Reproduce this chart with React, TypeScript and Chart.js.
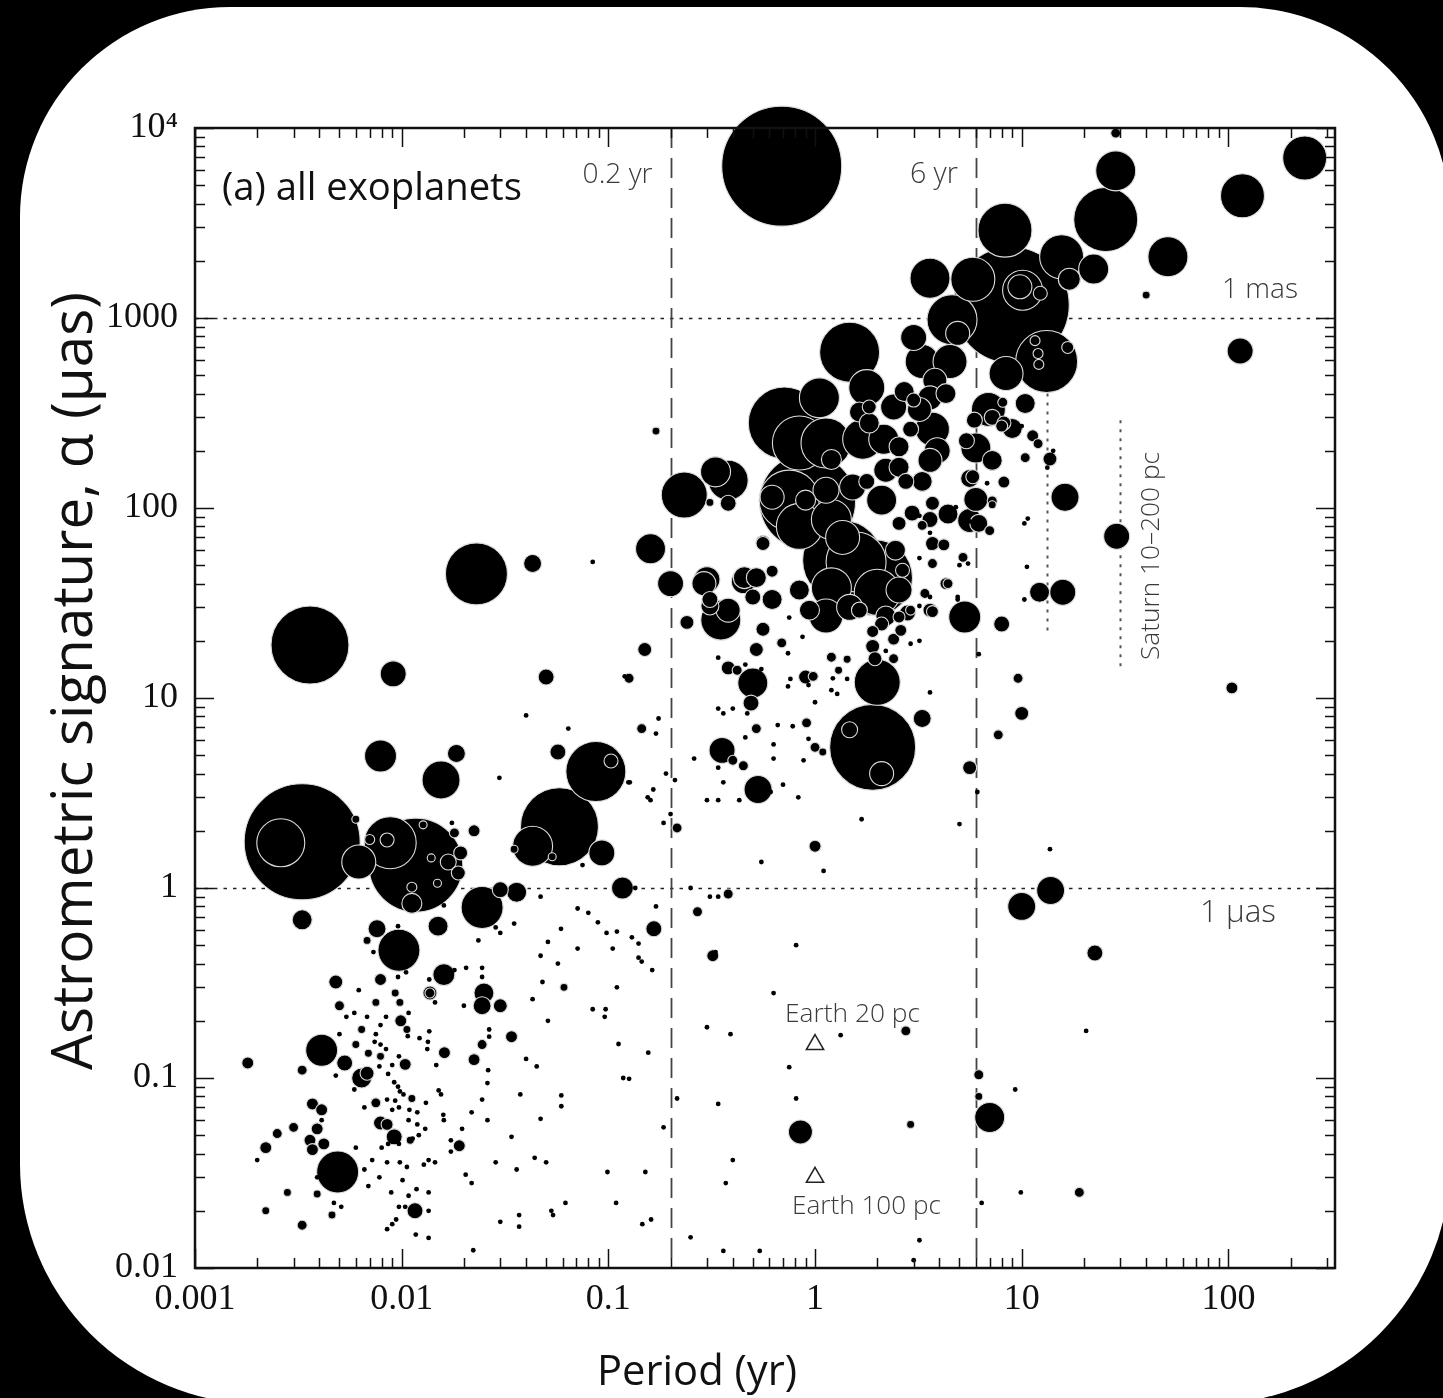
import React, { useEffect, useRef } from "react";
import { Chart, registerables } from "chart.js";

Chart.register(...registerables);

type Bubble = [number, number, number]; // [period (yr), astrometric signature (µas), bubble size]
type Dot = [number, number]; // [period (yr), astrometric signature (µas)]

// ---------------- data ----------------
const giantPlanets: Bubble[] = [
  [0.69, 6300, 60], [0.0036, 19, 39], [0.023, 45, 31], [0.0033, 1.75, 58], [0.0026, 1.73, 24],
  [0.0117, 1.32, 47], [0.0088, 1.73, 26], [0.058, 2.1, 39], [0.043, 1.66, 20], [0.087, 4.1, 30],
  [0.0245, 0.79, 21], [0.233, 117, 23], [0.35, 25.7, 20], [0.71, 280, 36], [1.47, 660, 30],
  [0.92, 108, 48], [1.36, 53, 40], [1.94, 43, 38], [1.9, 5.5, 43], [2.0, 12.1, 23],
  [8.3, 2900, 27], [25.5, 3300, 32], [28.5, 5950, 20], [51, 2100, 20], [117, 4400, 22],
  [234, 6950, 22], [15.6, 2100, 22], [13.2, 590, 31], [0.0049, 0.032, 21], [0.0097, 0.47, 21],
  [8.9, 1170, 58], [3.6, 1620, 20], [5.8, 1600, 22], [10.1, 1400, 20], [4.6, 980, 25],
  [1.05, 380, 20], [0.84, 220, 27], [1.13, 220, 25], [1.7, 230, 20], [0.75, 110, 30],
  [1.2, 87, 20], [0.84, 80, 23], [1.58, 52, 30], [1.2, 38, 20], [2.0, 36, 23], [0.38, 140, 20],
];

const largePlanets: Bubble[] = [
  [0.0062, 1.37, 17], [0.0155, 3.7, 19], [0.0079, 4.95, 16], [0.0091, 13.4, 13], [0.093, 1.53, 13],
  [0.117, 1.0, 11], [0.16, 61, 15], [0.2, 40, 13], [0.33, 155, 15], [0.29, 40, 12],
  [0.455, 43, 11], [2.1, 4.0, 12], [0.53, 3.3, 14], [0.355, 5.3, 13], [0.5, 12, 15],
  [5.3, 26.7, 16], [114, 670, 13], [22.3, 1810, 15], [17, 1600, 11], [28.8, 71, 13],
  [16.2, 114, 14], [15.8, 36, 13], [12.2, 36, 10], [13.8, 0.97, 14], [10, 0.8, 14],
  [7.0, 0.062, 15], [0.85, 0.052, 12], [0.0041, 0.14, 16], [0.0033, 0.68, 10], [0.025, 0.28, 10],
  [0.015, 0.63, 10], [0.016, 0.35, 11], [0.0064, 0.1, 10], [0.0112, 0.83, 10], [0.036, 0.95, 10],
  [9.8, 1460, 12], [4.9, 830, 12], [3.0, 790, 13], [3.3, 590, 17], [4.5, 590, 17],
  [3.8, 470, 12], [2.7, 410, 10], [3.6, 380, 12], [4.3, 400, 10], [8.4, 510, 17],
  [3.7, 260, 17], [3.9, 200, 13], [3.2, 330, 12], [2.4, 340, 13], [1.78, 430, 18],
  [1.64, 320, 10], [1.83, 280, 10], [1.2, 180, 10], [2.15, 230, 15], [2.55, 210, 10],
  [0.62, 114, 12], [0.9, 110, 10], [1.13, 124, 13], [1.52, 129, 13], [2.2, 158, 12],
  [2.55, 164, 10], [3.3, 138, 10], [3.6, 178, 12], [2.1, 110, 15], [1.36, 70, 17],
  [2.55, 37, 13], [2.2, 27, 10], [2.45, 60, 10], [5.6, 86, 12], [0.52, 43, 10],
  [0.45, 41, 12], [0.3, 42, 13], [0.38, 29, 12], [0.62, 33, 10], [0.84, 37, 10],
  [0.94, 29, 10], [1.13, 27, 17], [1.47, 30, 13], [10.4, 355, 10], [9.0, 262, 10],
  [6.0, 207, 15], [6.9, 330, 17], [7.2, 178, 10], [6.0, 111, 12], [4.4, 93, 10],
];

const mediumPlanets: Bubble[] = [
  [0.0184, 5.1, 9], [0.043, 51, 9], [0.05, 12.9, 8], [0.31, 30.5, 9], [0.24, 25, 7],
  [1.47, 6.8, 8], [0.49, 9.4, 8], [11.6, 760, 5], [12.0, 650, 5], [12.1, 570, 5],
  [16.7, 700, 6], [28.5, 9400, 5], [40, 1320, 4], [104, 11.3, 6], [22.6, 0.455, 8],
  [19, 0.025, 5], [0.0018, 0.12, 6], [0.0076, 0.61, 9], [0.0116, 0.02, 8], [0.0245, 0.24, 9],
  [0.03, 0.24, 7], [0.0137, 0.28, 7], [0.0068, 0.53, 4], [0.0048, 0.32, 7], [0.0079, 0.33, 6],
  [0.0053, 0.12, 8], [0.0033, 0.11, 5], [0.0037, 0.073, 6], [0.0041, 0.068, 6], [0.0036, 0.047, 6],
  [0.0037, 0.042, 6], [0.0042, 0.045, 6], [0.0039, 0.054, 6], [0.003, 0.055, 5], [0.0025, 0.051, 5],
  [0.0022, 0.043, 6], [0.0022, 0.02, 4], [0.0033, 0.0168, 5], [0.0028, 0.025, 4], [0.0039, 0.0245, 4],
  [0.0046, 0.019, 4], [0.0092, 0.049, 8], [0.0079, 0.058, 7], [0.0085, 0.057, 6], [0.0068, 0.106, 7],
  [0.0099, 0.2, 6], [0.005, 0.24, 5], [0.006, 0.15, 4], [0.0069, 0.135, 4], [0.0079, 0.13, 4],
  [0.0104, 0.118, 6], [0.0161, 0.136, 6], [0.0112, 0.078, 4], [0.0075, 0.074, 5], [0.011, 0.047, 4],
  [0.019, 0.044, 6], [0.0064, 0.18, 4], [0.0093, 0.28, 4], [0.0098, 0.25, 4], [0.0075, 0.25, 4],
  [0.0106, 0.18, 4], [0.0085, 1.79, 7], [0.007, 1.8, 5], [0.0112, 1.01, 5], [0.0127, 2.15, 4],
  [0.0139, 1.44, 4], [0.0168, 1.37, 8], [0.0149, 1.06, 4], [0.0188, 1.2, 7], [0.0193, 1.53, 7],
  [0.103, 4.66, 7], [0.0535, 1.46, 4], [0.035, 1.6, 4], [0.034, 0.165, 6], [0.0245, 0.15, 5],
  [0.0224, 0.125, 6], [0.03, 0.98, 8], [0.166, 0.61, 8], [0.38, 0.93, 5], [0.27, 0.75, 5],
  [0.32, 0.44, 6], [2.75, 0.177, 5], [6.2, 0.104, 5], [6.2, 0.08, 4], [2.9, 0.057, 4],
  [0.17, 254, 4], [0.126, 12.7, 5], [0.145, 6.9, 5], [0.057, 5.2, 8], [0.0224, 2.0, 6],
  [0.018, 1.95, 5], [0.006, 2.3, 4], [0.215, 2.07, 5], [0.38, 14.4, 7], [0.42, 14, 5],
  [0.52, 6.9, 5], [0.4, 4.7, 5], [0.45, 4.4, 5], [0.91, 7.4, 5], [1.0, 5.5, 5],
  [1.09, 5.2, 4], [1.0, 1.66, 6], [5.6, 4.3, 7], [3.3, 7.8, 9], [0.9, 12.9, 7],
  [0.98, 13, 5], [0.69, 19.5, 5], [0.52, 18, 7], [0.56, 23, 7], [0.62, 46.5, 6],
  [0.56, 66, 7], [1.2, 16.4, 5], [1.43, 16, 4], [1.3, 14, 4], [0.15, 18, 7],
  [3.4, 35.5, 5], [4.4, 40, 5], [3.7, 28.5, 6], [6.2, 83, 9], [3.3, 81, 5],
  [2.4, 20.4, 6], [2.6, 22.7, 6], [2.1, 24.5, 7], [1.9, 22.4, 6], [1.9, 18.7, 7],
  [2.4, 16.1, 5], [1.95, 16.1, 7], [2.55, 26.7, 6], [2.9, 29, 5], [10, 8.3, 7],
  [9.6, 12.7, 5], [7.7, 6.4, 5], [13.7, 181, 7], [10.4, 184, 5], [11.3, 240, 6],
  [12, 218, 5], [8.2, 280, 7], [7.2, 300, 8], [8.2, 137, 6], [7.2, 109, 5],
  [7.2, 104, 4], [5.6, 143, 9], [5.2, 55, 5], [4.3, 40, 6], [8.0, 24.5, 8],
  [5.4, 226, 8], [5.9, 290, 8], [8.1, 360, 5], [8.0, 270, 6], [3.0, 370, 7],
  [1.83, 340, 7], [2.9, 260, 8], [1.78, 138, 8], [2.75, 138, 8], [2.8, 28, 8],
  [3.6, 29, 7], [1.64, 29, 8], [2.65, 47, 7], [3.7, 51, 5], [3.7, 65, 7],
  [4.2, 64, 6], [3.6, 87, 8], [2.95, 94, 8], [2.55, 83, 7], [3.7, 106, 7],
  [5.8, 146, 7], [7.0, 76, 5], [0.56, 65, 7], [0.31, 33, 8], [0.5, 34, 8],
  [0.31, 107, 4], [0.38, 106, 8], [12.3, 1350, 7], [0.061, 0.3, 4], [0.0137, 0.28, 5],
];

const faintPlanets: Dot[] = [
  [0.0096, 0.63], [0.0073, 0.46], [0.0105, 0.36], [0.0096, 0.34], [0.0062, 0.29], [0.0054, 0.21],
  [0.0059, 0.22], [0.0068, 0.21], [0.0084, 0.21], [0.0079, 0.19], [0.0108, 0.22], [0.005, 0.17],
  [0.0075, 0.17], [0.0107, 0.166], [0.0122, 0.162], [0.0136, 0.176], [0.0074, 0.155], [0.0079, 0.15],
  [0.0084, 0.142], [0.0097, 0.13], [0.0078, 0.115], [0.009, 0.117], [0.0134, 0.155], [0.0133, 0.142],
  [0.0147, 0.117], [0.0086, 0.105], [0.0059, 0.087], [0.0048, 0.103], [0.0092, 0.095], [0.0096, 0.09],
  [0.0098, 0.085], [0.0102, 0.082], [0.0093, 0.076], [0.0085, 0.077], [0.0066, 0.07], [0.009, 0.068],
  [0.0097, 0.07], [0.0109, 0.068], [0.0119, 0.066], [0.0108, 0.06], [0.0119, 0.057], [0.0131, 0.074],
  [0.0151, 0.086], [0.0155, 0.082], [0.0159, 0.064], [0.016, 0.06], [0.0196, 0.054], [0.0173, 0.047],
  [0.0173, 0.041], [0.013, 0.054], [0.0121, 0.05], [0.008, 0.043], [0.0086, 0.045], [0.0097, 0.045],
  [0.0113, 0.048], [0.006, 0.043], [0.0072, 0.037], [0.0085, 0.036], [0.0098, 0.036], [0.0106, 0.034],
  [0.0128, 0.035], [0.0135, 0.037], [0.0145, 0.036], [0.0066, 0.033], [0.0078, 0.03], [0.0101, 0.029],
  [0.0069, 0.027], [0.0089, 0.025], [0.0108, 0.024], [0.0118, 0.026], [0.0135, 0.025], [0.0039, 0.03],
  [0.0047, 0.022], [0.0051, 0.021], [0.002, 0.037], [0.0041, 0.06], [0.0097, 0.021], [0.0104, 0.021],
  [0.0094, 0.018], [0.009, 0.017], [0.0085, 0.016], [0.0117, 0.015], [0.0135, 0.0144], [0.0135, 0.02],
  [0.0222, 0.0124], [0.047, 0.061], [0.053, 0.02], [0.054, 0.019], [0.062, 0.022], [0.03, 0.0175],
  [0.037, 0.019], [0.037, 0.0165], [0.109, 0.022], [0.146, 0.017], [0.161, 0.018], [0.099, 0.032],
  [0.151, 0.032], [0.044, 0.038], [0.05, 0.036], [0.0285, 0.036], [0.036, 0.033], [0.0204, 0.031],
  [0.0218, 0.028], [0.034, 0.049], [0.026, 0.06], [0.0245, 0.077], [0.0218, 0.066], [0.0592, 0.081],
  [0.0592, 0.071], [0.0375, 0.082], [0.045, 0.115], [0.04, 0.126], [0.118, 0.1], [0.126, 0.099],
  [0.112, 0.151], [0.156, 0.136], [0.051, 0.2], [0.084, 0.23], [0.097, 0.23], [0.096, 0.21],
  [0.11, 0.3], [0.043, 0.26], [0.057, 0.4], [0.047, 0.44], [0.071, 0.48], [0.105, 0.48],
  [0.145, 0.41], [0.14, 0.51], [0.13, 0.55], [0.11, 0.59], [0.098, 0.58], [0.089, 0.66],
  [0.051, 0.52], [0.059, 0.61], [0.08, 0.74], [0.071, 0.78], [0.047, 0.9], [0.035, 0.65],
  [0.0285, 0.62], [0.03, 0.58], [0.0235, 0.53], [0.0245, 0.38], [0.0245, 0.34], [0.0205, 0.38],
  [0.02, 0.24], [0.0265, 0.18], [0.0265, 0.165], [0.0262, 0.11], [0.026, 0.094], [0.0145, 0.25],
  [0.0136, 0.33], [0.018, 0.37], [0.016, 0.81], [0.17, 0.8], [0.14, 0.43], [0.163, 0.37],
  [0.048, 0.32], [0.185, 0.055], [0.25, 0.0145], [0.36, 0.0123], [0.54, 0.0123], [0.215, 0.078],
  [0.25, 1.0], [0.31, 0.9], [0.34, 0.9], [0.33, 0.46], [0.81, 0.5], [0.63, 0.28],
  [0.3, 0.185], [0.39, 0.17], [1.33, 0.168], [0.75, 0.114], [0.81, 0.078], [0.34, 0.073],
  [0.4, 0.037], [0.37, 0.028], [6.4, 0.022], [9.9, 0.025], [3.2, 0.014], [3.0, 0.011],
  [20.5, 0.177], [9.3, 0.087], [13.7, 1.6], [0.084, 52], [0.12, 13], [0.04, 8.1],
  [0.064, 6.9], [0.0297, 3.8], [0.155, 3.0], [0.0175, 2.2], [0.075, 1.32], [0.127, 3.6],
  [0.175, 7.8], [0.17, 6.5], [0.19, 4.0], [0.21, 3.7], [0.125, 3.6], [0.165, 3.3],
  [0.16, 2.9], [0.2, 2.45], [0.185, 2.2], [0.135, 1.0], [0.34, 16.3], [0.46, 15],
  [0.55, 14.2], [0.34, 8.8], [0.36, 8.3], [0.4, 8.8], [0.47, 8.3], [0.46, 6.2],
  [0.34, 4.3], [0.36, 3.6], [0.26, 4.8], [0.3, 2.9], [0.34, 2.9], [0.43, 2.9],
  [0.61, 3.2], [0.7, 3.5], [0.83, 3.0], [0.88, 4.7], [0.63, 4.8], [0.63, 5.7],
  [0.66, 7.2], [0.78, 7.1], [0.93, 6.1], [0.55, 1.37], [1.1, 1.23], [1.68, 2.3],
  [5.0, 2.17], [6.1, 3.2], [3.6, 10.7], [0.76, 12.6], [0.74, 11.5], [0.93, 11.7],
  [1.0, 9.5], [1.2, 11], [1.28, 10.5], [1.22, 12.7], [1.43, 12.6], [0.74, 17.2],
  [0.75, 26.5], [0.87, 29], [0.87, 21], [3.6, 62], [3.2, 54.5], [3.6, 34],
  [5.0, 50], [5.5, 51], [4.9, 34], [5.6, 85], [4.8, 101], [3.2, 91],
  [3.6, 74], [2.9, 19.3], [3.2, 20], [2.2, 17.7], [3.2, 30.5], [6.2, 17],
  [13.3, 163], [14.2, 200], [10, 270], [6.8, 135], [10.7, 88], [10.3, 83],
  [10.6, 49], [10.3, 33], [4.9, 33],
];

// reference markers: Earth at 20 pc and 100 pc
const earthPeriods = [1, 1];
const earthAlphas = [0.15, 0.03];
const earthLabels = ["Earth 20 pc", "Earth 100 pc"];

// reference lines
const periodLines = [0.2, 6];
const periodLineLabels = ["0.2 yr", "6 yr"];
const alphaLines = [1000, 1];
const alphaLineLabels = ["1 mas", "1 \u00b5as"];
const saturnRange = { period: 30, near: 290, far: 14.4, label: "Saturn 10\u2013200 pc" };
const jupiterRange = { period: 13.2, near: 400, far: 22 };

// axes
const xMin = 0.001;
const xMax = 328;
const yMin = 0.01;
const yMax = 10000;
const xTickValues = [0.001, 0.01, 0.1, 1, 10, 100];
const xTickLabels = ["0.001", "0.01", "0.1", "1", "10", "100"];
const yTickValues = [0.01, 0.1, 1, 10, 100, 1000, 10000];
const yTickLabels = ["0.01", "0.1", "1", "10", "100", "1000", "10\u2074"];
const panelTitle = "(a) all exoplanets";
const xTitle = "Period (yr)";
const yTitle = "Astrometric signature, \u03b1 (\u00b5as)";

// ---------------- drawing helpers ----------------
const SANS = '"Open Sans", "Noto Sans", sans-serif';
const SERIF = '"Liberation Serif", "DejaVu Serif", serif';

function fitFont(ctx: CanvasRenderingContext2D, text: string, width: number, family: string, weight: number) {
  ctx.font = `${weight} 100px ${family}`;
  const w = ctx.measureText(text).width || 1;
  return `${weight} ${((100 * width) / w).toFixed(2)}px ${family}`;
}

function minorValues(min: number, max: number) {
  const out: { v: number; major: boolean }[] = [];
  for (let e = Math.floor(Math.log10(min)); e <= Math.ceil(Math.log10(max)); e++) {
    for (let k = 1; k <= 9; k++) {
      const v = k * Math.pow(10, e);
      if (v >= min * 0.999 && v <= max * 1.001) out.push({ v, major: k === 1 });
    }
  }
  return out;
}

const overlayPlugin = {
  id: "overlay",
  beforeDatasetsDraw(chart: any) {
    const { ctx, chartArea: a, scales } = chart;
    const x = scales.x;
    const y = scales.y;
    ctx.save();
    // dotted horizontal reference lines
    ctx.strokeStyle = "#222";
    ctx.lineWidth = 1.6;
    ctx.setLineDash([3.5, 6]);
    alphaLines.forEach((v) => {
      const py = Math.round(y.getPixelForValue(v)) + 0.5;
      ctx.beginPath();
      ctx.moveTo(a.left, py);
      ctx.lineTo(a.right, py);
      ctx.stroke();
    });
    // dashed vertical lines
    ctx.strokeStyle = "#444";
    ctx.lineWidth = 1.8;
    ctx.setLineDash([20, 10]);
    periodLines.forEach((v) => {
      const px = Math.round(x.getPixelForValue(v)) + 0.5;
      ctx.beginPath();
      ctx.moveTo(px, a.top);
      ctx.lineTo(px, a.bottom);
      ctx.stroke();
    });
    // dotted planet ranges
    ctx.strokeStyle = "#555";
    ctx.lineWidth = 2;
    ctx.setLineDash([3, 6]);
    [saturnRange, jupiterRange].forEach((r) => {
      const px = Math.round(x.getPixelForValue(r.period)) + 0.5;
      ctx.beginPath();
      ctx.moveTo(px, y.getPixelForValue(r.near));
      ctx.lineTo(px, y.getPixelForValue(r.far));
      ctx.stroke();
    });
    ctx.restore();
  },
  afterDatasetsDraw(chart: any) {
    const { ctx, chartArea: a, scales } = chart;
    const x = scales.x;
    const y = scales.y;
    ctx.save();
    ctx.setLineDash([]);
    // frame
    ctx.strokeStyle = "#111";
    ctx.lineWidth = 2.5;
    ctx.strokeRect(a.left, a.top, a.right - a.left, a.bottom - a.top);
    // inward ticks on all four sides
    ctx.lineWidth = 1.5;
    ctx.beginPath();
    minorValues(xMin, xMax).forEach(({ v, major }) => {
      const px = Math.round(x.getPixelForValue(v)) + 0.5;
      const len = major ? 19 : 10;
      ctx.moveTo(px, a.bottom);
      ctx.lineTo(px, a.bottom - len);
      ctx.moveTo(px, a.top);
      ctx.lineTo(px, a.top + len);
    });
    minorValues(yMin, yMax).forEach(({ v, major }) => {
      const py = Math.round(y.getPixelForValue(v)) + 0.5;
      const len = major ? 19 : 10;
      ctx.moveTo(a.left, py);
      ctx.lineTo(a.left + len, py);
      ctx.moveTo(a.right, py);
      ctx.lineTo(a.right - len, py);
    });
    ctx.stroke();

    // panel title
    ctx.fillStyle = "#111";
    ctx.textBaseline = "alphabetic";
    ctx.textAlign = "left";
    ctx.font = fitFont(ctx, panelTitle, 300, SANS, 400);
    ctx.fillText(panelTitle, a.left + 27, a.top + 72);

    // axis titles
    ctx.textAlign = "center";
    ctx.font = fitFont(ctx, xTitle, 200, SANS, 400);
    ctx.fillText(xTitle, 697, 1385);
    ctx.save();
    ctx.translate(92, 681);
    ctx.rotate(-Math.PI / 2);
    ctx.font = fitFont(ctx, yTitle, 778, SANS, 400);
    ctx.fillText(yTitle, 0, 0);
    ctx.restore();

    // annotations
    ctx.fillStyle = "#3a3a3a";
    ctx.textAlign = "right";
    const pWidths = [70, 48];
    periodLines.forEach((v, i) => {
      const px = x.getPixelForValue(v);
      ctx.font = fitFont(ctx, periodLineLabels[i], pWidths[i], SANS, 300);
      ctx.fillText(periodLineLabels[i], px - 18, a.top + 55);
    });
    ctx.textAlign = "left";
    ctx.font = fitFont(ctx, alphaLineLabels[0], 76, SANS, 300);
    ctx.fillText(alphaLineLabels[0], 1222, y.getPixelForValue(alphaLines[0]) - 20);
    ctx.font = fitFont(ctx, alphaLineLabels[1], 76, SANS, 300);
    ctx.fillText(alphaLineLabels[1], 1200, y.getPixelForValue(alphaLines[1]) + 34);

    const ex = x.getPixelForValue(earthPeriods[0]);
    ctx.font = fitFont(ctx, earthLabels[0], 135, SANS, 300);
    ctx.fillText(earthLabels[0], ex - 30, y.getPixelForValue(earthAlphas[0]) - 23);
    ctx.font = fitFont(ctx, earthLabels[1], 149, SANS, 300);
    ctx.fillText(earthLabels[1], ex - 23, y.getPixelForValue(earthAlphas[1]) + 37);

    // Saturn label (vertical)
    const sx = x.getPixelForValue(saturnRange.period);
    ctx.save();
    ctx.translate(sx + 39, 556);
    ctx.rotate(-Math.PI / 2);
    ctx.textAlign = "center";
    ctx.font = fitFont(ctx, saturnRange.label, 208, SANS, 300);
    ctx.fillText(saturnRange.label, 0, 0);
    ctx.restore();

    ctx.restore();
  },
};

export default function App() {
  const canvasRef = useRef<HTMLCanvasElement | null>(null);

  useEffect(() => {
    const canvas = canvasRef.current;
    if (!canvas) return;

    const bubbles = [...giantPlanets, ...largePlanets, ...mediumPlanets]
      .map(([p, a, s]) => ({ x: p, y: a, r: s }))
      .sort((u, v) => v.r - u.r);
    const dots = faintPlanets.map(([p, a]) => ({ x: p, y: a }));
    const earth = earthPeriods.map((p, i) => ({ x: p, y: earthAlphas[i] }));

    const chart = new Chart(canvas, {
      type: "bubble",
      data: {
        datasets: [
          {
            type: "scatter",
            label: "Earth",
            data: earth,
            pointStyle: "triangle",
            pointRadius: 10,
            backgroundColor: "rgba(255,255,255,0)",
            borderColor: "#222",
            borderWidth: 1.5,
            order: 0,
            clip: false,
          } as any,
          {
            type: "scatter",
            label: "faint",
            data: dots,
            pointRadius: 2.4,
            backgroundColor: "#000",
            borderWidth: 0,
            order: 1,
            clip: false,
          } as any,
          {
            type: "bubble",
            label: "planets",
            data: bubbles,
            backgroundColor: "#000",
            borderColor: "#dcdcdc",
            borderWidth: (c: any) => ((c.raw && c.raw.r) >= 4 ? 1.1 : 0),
            order: 2,
            clip: false,
          } as any,
        ],
      },
      options: {
        responsive: false,
        animation: false,
        events: [],
        layout: { padding: { left: 0, top: 128, right: 108, bottom: 0 } },
        plugins: { legend: { display: false }, tooltip: { enabled: false } },
        elements: { point: { hoverRadius: 0 } },
        scales: {
          x: {
            type: "logarithmic",
            position: "bottom",
            min: xMin,
            max: xMax,
            grid: { display: false, drawTicks: false, tickLength: 0 },
            border: { display: false },
            afterBuildTicks: (s: any) => {
              s.ticks = xTickValues.map((v) => ({ value: v }));
            },
            afterFit: (s: any) => {
              s.height = 130;
            },
            ticks: {
              autoSkip: false,
              maxRotation: 0,
              padding: 10,
              color: "#111",
              font: { family: SERIF, size: 36 },
              callback: (v: any) => {
                const i = xTickValues.findIndex((t) => Math.abs(t - Number(v)) / t < 1e-6);
                return i >= 0 ? xTickLabels[i] : "";
              },
            },
          },
          y: {
            type: "logarithmic",
            position: "left",
            min: yMin,
            max: yMax,
            grid: { display: false, drawTicks: false, tickLength: 0 },
            border: { display: false },
            afterBuildTicks: (s: any) => {
              s.ticks = yTickValues.map((v) => ({ value: v }));
            },
            afterFit: (s: any) => {
              s.width = 195;
            },
            ticks: {
              autoSkip: false,
              padding: 17,
              color: "#111",
              font: { family: SERIF, size: 36 },
              callback: (v: any) => {
                const i = yTickValues.findIndex((t) => Math.abs(t - Number(v)) / t < 1e-6);
                return i >= 0 ? yTickLabels[i] : "";
              },
            },
          },
        },
      } as any,
      plugins: [overlayPlugin],
    });

    return () => chart.destroy();
  }, []);

  return (
    <div style={{ position: "fixed", left: 0, top: 0, width: 1443, height: 1398, background: "#000", overflow: "hidden" }}>
      <div
        style={{
          position: "absolute",
          left: 20,
          top: 7,
          width: 1430,
          height: 1397,
          background: "#fff",
          borderRadius: "210px 210px 240px 240px",
        }}
      />
      <canvas ref={canvasRef} width={1443} height={1398} style={{ position: "absolute", left: 0, top: 0, display: "block" }} />
    </div>
  );
}
